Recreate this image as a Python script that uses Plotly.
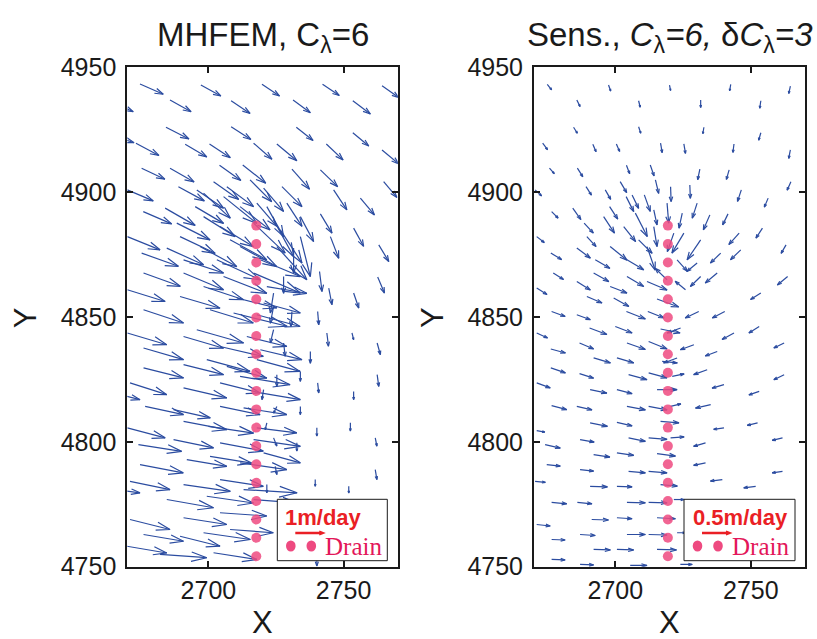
import plotly.graph_objects as go

# ---------------- data ----------------
# Left panel (MHFEM, C_lambda=6): arrow tails (x, y) and velocity (u, v) in m/day
L_x = [2674.7, 2697.2, 2719.8, 2742.2, 2764.2, 2664.8, 2685.8, 2708.4, 2731.3, 2753.4,
       2663.6, 2684.3, 2708.4, 2732.5, 2753.4, 2673.2, 2691.4, 2700.4, 2716.7, 2725.3,
       2743.6, 2764.2, 2675.3, 2685.8, 2704.1, 2712.7, 2730.9, 2741.4, 2764.8, 2670.0,
       2688.9, 2695.7, 2701.9, 2706.8, 2715.4, 2720.4, 2727.2, 2746.3, 2756.2, 2675.9,
       2684.0, 2695.1, 2698.2, 2705.6, 2711.7, 2717.9, 2721.6, 2729.0, 2734.0, 2741.4,
       2753.7, 2670.0, 2688.3, 2689.5, 2698.2, 2704.3, 2708.0, 2716.7, 2724.1, 2726.6,
       2734.0, 2745.1, 2763.0, 2675.3, 2684.6, 2690.8, 2696.9, 2703.1, 2711.7, 2719.2,
       2725.3, 2731.5, 2741.1, 2744.5, 2762.6, 2670.0, 2676.0, 2690.8, 2698.2, 2705.6,
       2716.7, 2721.6, 2727.8, 2724.1, 2753.7, 2689.5, 2710.5, 2720.4, 2676.0, 2700.6,
       2709.3, 2717.9, 2724.1, 2730.9, 2740.4, 2670.0, 2676.0, 2690.8, 2695.7, 2704.3,
       2714.2, 2719.2, 2724.1, 2727.8, 2737.7, 2743.8, 2753.1, 2762.4, 2676.0, 2690.8,
       2699.4, 2706.8, 2711.7, 2717.9, 2725.3, 2734.0, 2740.4, 2753.7, 2762.4, 2671.0,
       2664.8, 2690.8, 2704.3, 2719.2, 2720.4, 2676.6, 2687.1, 2704.3, 2713.0, 2725.3,
       2734.0, 2670.0, 2690.8, 2700.0, 2717.9, 2721.6, 2740.1, 2752.5, 2761.7, 2674.1,
       2687.1, 2704.3, 2716.7, 2724.1, 2732.7, 2674.7, 2692.0, 2700.6, 2711.7, 2720.4,
       2724.7, 2761.7, 2664.8, 2671.0, 2690.8, 2704.3, 2713.0, 2721.6, 2739.5, 2751.9,
       2684.6, 2699.4, 2716.7, 2671.0, 2690.8, 2704.3, 2676.0, 2689.5, 2698.2, 2708.0,
       2669.8, 2682.1, 2701.9, 2740.1]
L_y = [4943.3, 4942.9, 4943.2, 4943.2, 4942.6, 4935.8, 4936.9, 4936.6, 4936.9, 4936.6,
       4922.9, 4926.0, 4926.2, 4926.0, 4923.8, 4919.6, 4919.2, 4919.3, 4919.6, 4919.3,
       4919.3, 4916.9, 4909.6, 4909.6, 4910.8, 4910.9, 4909.2, 4908.9, 4904.2, 4900.9,
       4902.2, 4900.9, 4904.2, 4902.2, 4904.9, 4901.6, 4902.2, 4900.9, 4897.6, 4892.2,
       4893.6, 4894.2, 4899.6, 4898.2, 4894.2, 4895.6, 4894.2, 4895.6, 4890.2, 4891.3,
       4885.6, 4882.2, 4887.6, 4882.2, 4890.2, 4886.2, 4880.9, 4887.6, 4888.9, 4884.9,
       4882.2, 4882.2, 4878.9, 4875.6, 4877.6, 4872.9, 4878.2, 4872.9, 4878.2, 4872.9,
       4878.2, 4877.6, 4868.2, 4861.6, 4866.0, 4860.9, 4867.6, 4867.6, 4862.2, 4866.2,
       4867.6, 4862.2, 4866.2, 4859.6, 4859.6, 4858.2, 4857.6, 4855.6, 4852.9, 4852.9,
       4851.6, 4850.9, 4854.2, 4852.2, 4852.2, 4843.6, 4837.6, 4842.2, 4844.9, 4838.2,
       4842.2, 4836.9, 4844.9, 4839.6, 4836.2, 4843.6, 4843.6, 4839.6, 4829.6, 4830.9,
       4832.9, 4830.2, 4826.2, 4832.9, 4826.9, 4828.2, 4823.6, 4820.2, 4826.9, 4823.6,
       4819.6, 4821.6, 4823.6, 4819.6, 4820.9, 4814.2, 4812.9, 4814.2, 4813.6, 4814.2,
       4814.2, 4805.6, 4808.2, 4806.2, 4805.6, 4807.6, 4805.6, 4807.6, 4801.6, 4798.9,
       4800.9, 4799.6, 4800.9, 4801.6, 4799.6, 4790.9, 4792.9, 4794.2, 4791.6, 4795.6,
       4790.2, 4788.9, 4780.9, 4784.2, 4782.9, 4784.9, 4780.9, 4782.9, 4784.9, 4782.2,
       4776.9, 4778.2, 4776.9, 4768.9, 4769.6, 4771.6, 4762.9, 4762.2, 4763.6, 4764.9,
       4758.2, 4754.9, 4755.6, 4755.6]
L_u = [0.86, 0.74, 0.65, 0.62, 0.62, 0.74, 0.78, 0.70, 0.64, 0.65,
       0.89, 0.85, 0.73, 0.62, 0.59, 0.85, 0.80, 0.77, 0.68, 0.74,
       0.62, 0.62, 0.86, 0.89, 0.79, 0.85, 0.65, 0.64, 0.49, 0.96,
       0.96, 0.99, 0.93, 0.99, 0.80, 0.74, 0.74, 0.49, 0.52, 1.05,
       1.11, 1.05, 0.99, 1.23, 1.11, 0.74, 0.62, 0.56, 0.49, 0.43,
       0.37, 1.21, 1.23, 1.30, 1.17, 1.23, 1.36, 1.17, 0.74, 0.80,
       0.37, 0.31, 0.37, 1.36, 1.36, 1.48, 1.36, 1.60, 1.36, 1.48,
       1.11, 0.00, 0.09, 0.12, 0.25, 1.40, 1.36, 1.48, 1.48, 1.60,
       1.73, 1.48, 0.00, -0.12, 0.19, 1.48, 1.48, 1.36, 1.48, 1.60,
       1.98, 1.60, -0.12, -0.04, 0.04, 1.46, 1.48, 1.48, 1.73, 1.60,
       1.48, 1.54, -0.12, 0.06, 0.00, 0.06, 0.06, 0.12, 1.48, 1.48,
       1.60, 1.48, 1.85, 1.60, 0.00, 0.00, 0.04, 0.00, 0.06, 1.36,
       0.99, 1.60, 1.48, 1.48, -0.06, 1.42, 1.36, 1.48, 1.60, -0.12,
       0.00, 1.40, 1.60, 1.67, 1.48, -0.06, 0.00, 0.00, 0.06, 1.60,
       1.48, 1.60, 1.73, 0.12, 0.00, 1.60, 1.48, 1.54, 1.73, 1.36,
       0.06, 0.06, 0.99, 1.48, 1.73, 1.60, 1.98, 0.00, 0.00, 0.00,
       1.73, 1.73, 1.60, 1.48, 1.60, 1.73, 1.48, 1.48, 1.73, 1.60,
       1.48, 1.73, 1.60, 0.00]
L_v = [-0.41, -0.44, -0.47, -0.45, -0.47, -0.36, -0.47, -0.51, -0.51, -0.53,
       -0.31, -0.47, -0.51, -0.53, -0.53, -0.49, -0.51, -0.55, -0.64, -0.67,
       -0.64, -0.56, -0.44, -0.55, -0.61, -0.73, -0.80, -0.67, -0.63, -0.44,
       -0.57, -0.73, -0.71, -0.80, -0.87, -0.93, -0.80, -0.80, -0.67, -0.49,
       -0.69, -0.67, -1.00, -1.07, -0.93, -0.93, -1.20, -0.93, -1.00, -0.77,
       -0.73, -0.53, -0.67, -0.67, -0.80, -0.80, -0.80, -1.20, -1.47, -1.33,
       -1.60, -0.87, -0.67, -0.53, -0.67, -0.53, -0.80, -0.80, -0.80, -0.67,
       -1.33, -1.00, -0.80, -0.67, -0.64, -0.47, -0.53, -0.67, -0.53, -0.67,
       -0.80, -0.27, -0.67, -0.80, -0.60, -0.47, -0.40, -0.40, -0.53, -0.53,
       -0.53, -0.47, -0.67, -0.60, -0.53, -0.47, -0.47, -0.47, -0.53, -0.40,
       -0.40, -0.40, -0.53, -0.53, -0.47, -0.53, -0.27, -0.47, -0.40, -0.40,
       -0.47, -0.47, -0.33, -0.47, -0.47, -0.40, -0.40, -0.33, -0.47, -0.47,
       -0.27, -0.40, -0.40, -0.27, -0.40, -0.33, -0.33, -0.33, -0.27, -0.27,
       -0.33, -0.40, -0.33, -0.27, -0.20, -0.27, -0.33, -0.33, -0.33, -0.27,
       -0.33, -0.33, -0.27, -0.33, -0.33, -0.33, -0.27, -0.27, -0.27, -0.40,
       -0.33, -0.40, -0.13, -0.33, -0.27, -0.27, -0.13, -0.33, -0.27, -0.27,
       -0.33, -0.27, -0.13, -0.40, -0.27, -0.13, -0.27, -0.40, -0.27, -0.13,
       -0.27, -0.13, -0.27, -0.53]

# Right panel (sensitivity, C_lambda=6, dC_lambda=3)
R_x = [2674.9, 2697.5, 2720.0, 2742.6, 2764.6, 2685.8, 2708.6, 2731.5, 2753.7, 2684.6,
       2708.6, 2732.7, 2753.7, 2673.2, 2691.7, 2700.4, 2716.7, 2725.3, 2743.8, 2764.6,
       2675.7, 2686.0, 2704.1, 2712.9, 2731.2, 2742.0, 2764.8, 2670.4, 2689.2, 2696.3,
       2701.8, 2706.2, 2714.8, 2720.4, 2727.5, 2746.5, 2756.4, 2676.5, 2684.3, 2697.9,
       2704.0, 2710.7, 2714.2, 2719.1, 2724.7, 2730.2, 2734.9, 2741.6, 2754.3, 2671.0,
       2688.5, 2689.5, 2695.7, 2703.1, 2707.4, 2708.6, 2714.2, 2721.6, 2725.3, 2731.5,
       2745.7, 2763.0, 2676.2, 2685.8, 2692.6, 2698.1, 2704.3, 2711.7, 2719.1, 2722.8,
       2730.2, 2738.9, 2746.3, 2763.6, 2671.0, 2677.1, 2685.8, 2692.0, 2698.1, 2704.3,
       2711.7, 2725.9, 2731.5, 2737.6, 2753.7, 2676.5, 2689.5, 2699.4, 2715.4, 2685.8,
       2704.1, 2712.0, 2730.8, 2740.4, 2671.0, 2690.5, 2700.0, 2716.7, 2724.1, 2743.8,
       2753.1, 2676.2, 2686.8, 2704.3, 2712.3, 2717.3, 2722.8, 2729.0, 2737.6, 2762.3,
       2676.2, 2686.8, 2692.0, 2700.6, 2704.9, 2712.3, 2721.0, 2733.9, 2762.3, 2671.0,
       2690.7, 2700.6, 2715.4, 2740.1, 2753.1, 2676.5, 2685.8, 2704.3, 2712.3, 2720.4,
       2735.2, 2690.7, 2700.6, 2716.7, 2740.1, 2752.5, 2671.0, 2674.1, 2687.0, 2704.9,
       2712.3, 2720.4, 2733.3, 2761.7, 2692.0, 2700.6, 2715.4, 2733.3, 2674.7, 2687.0,
       2704.9, 2712.3, 2761.7, 2670.4, 2690.7, 2700.6, 2716.7, 2739.5, 2751.8, 2676.5,
       2686.0, 2704.3, 2712.3, 2721.6, 2671.0, 2691.3, 2700.6, 2715.4, 2676.5, 2687.0,
       2704.3, 2712.3, 2722.8, 2692.0, 2700.6, 2715.4, 2676.5, 2687.0, 2705.5, 2724.0]
R_y = [4943.2, 4942.9, 4942.9, 4943.2, 4942.5, 4936.9, 4936.6, 4936.9, 4936.6, 4926.0,
       4926.2, 4926.0, 4923.8, 4919.6, 4919.2, 4919.3, 4919.6, 4919.3, 4919.3, 4916.9,
       4909.6, 4909.6, 4910.8, 4910.9, 4909.2, 4908.9, 4904.2, 4900.9, 4902.2, 4900.9,
       4904.2, 4898.9, 4904.9, 4902.2, 4902.9, 4900.9, 4897.6, 4892.2, 4893.6, 4894.2,
       4898.2, 4898.9, 4892.9, 4895.6, 4891.6, 4895.6, 4890.9, 4891.3, 4885.6, 4882.2,
       4887.6, 4882.2, 4890.2, 4886.2, 4891.6, 4880.9, 4886.2, 4883.6, 4883.6, 4880.9,
       4883.6, 4878.9, 4875.6, 4877.6, 4872.9, 4878.2, 4872.9, 4878.2, 4864.9, 4872.9,
       4871.6, 4875.6, 4876.9, 4866.2, 4861.6, 4867.6, 4864.2, 4867.6, 4862.2, 4866.2,
       4864.2, 4860.9, 4866.2, 4867.6, 4859.6, 4852.2, 4858.2, 4857.6, 4857.2, 4850.9,
       4852.2, 4852.2, 4852.2, 4852.2, 4843.6, 4845.6, 4846.2, 4845.2, 4845.6, 4843.6,
       4846.2, 4837.2, 4839.6, 4839.6, 4840.2, 4832.2, 4833.6, 4838.9, 4836.2, 4839.6,
       4829.6, 4827.3, 4833.6, 4833.6, 4826.9, 4827.6, 4826.2, 4828.9, 4826.9, 4823.6,
       4820.9, 4820.9, 4820.9, 4822.9, 4820.2, 4814.5, 4814.2, 4814.2, 4814.2, 4814.2,
       4814.9, 4807.6, 4807.8, 4808.2, 4805.6, 4807.6, 4804.5, 4798.9, 4800.9, 4801.6,
       4801.6, 4801.6, 4799.6, 4801.6, 4794.9, 4795.6, 4795.3, 4791.6, 4790.9, 4788.9,
       4788.2, 4788.2, 4788.2, 4784.2, 4782.2, 4782.2, 4782.9, 4784.9, 4782.2, 4775.8,
       4775.8, 4775.8, 4775.8, 4776.9, 4766.9, 4768.9, 4769.6, 4769.6, 4760.9, 4762.9,
       4762.9, 4762.9, 4763.6, 4756.9, 4756.9, 4756.9, 4752.9, 4750.9, 4750.5, 4750.9]
R_u = [0.08, 0.04, 0.02, -0.02, -0.03, 0.06, 0.03, 0.00, -0.02, 0.07,
       0.04, -0.02, -0.04, 0.09, 0.06, 0.06, 0.03, 0.03, -0.02, -0.03,
       0.09, 0.10, 0.06, 0.07, -0.04, -0.05, -0.07, 0.12, 0.10, 0.10,
       0.12, 0.12, 0.06, 0.01, 0.01, -0.07, -0.07, 0.12, 0.15, 0.15,
       0.14, 0.11, 0.06, 0.03, -0.06, -0.09, -0.12, -0.10, -0.12, 0.14,
       0.17, 0.17, 0.20, 0.22, 0.22, 0.25, 0.06, -0.12, -0.22, -0.25,
       -0.19, -0.09, 0.20, 0.25, 0.27, 0.31, 0.31, 0.15, -0.22, 0.19,
       -0.19, -0.19, -0.19, -0.19, 0.19, 0.19, 0.25, 0.28, 0.31, 0.31,
       0.37, -0.19, -0.19, -0.22, -0.19, 0.25, 0.28, 0.28, 0.40, 0.25,
       0.35, 0.30, -0.25, -0.23, 0.20, 0.32, 0.31, 0.36, -0.25, -0.22,
       -0.19, 0.27, 0.26, 0.34, 0.34, 0.28, -0.25, -0.25, -0.22, -0.19,
       0.27, 0.26, 0.31, 0.31, 0.34, 0.34, 0.22, -0.25, -0.19, 0.25,
       0.31, 0.28, 0.37, -0.22, -0.19, 0.28, 0.28, 0.34, 0.34, 0.19,
       -0.28, 0.32, 0.28, 0.34, -0.19, -0.19, 0.15, 0.28, 0.26, 0.31,
       0.34, 0.25, -0.22, -0.19, 0.30, 0.31, 0.34, -0.22, 0.25, 0.25,
       0.31, 0.34, -0.19, 0.19, 0.32, 0.28, 0.31, -0.22, -0.22, 0.28,
       0.27, 0.34, 0.34, 0.19, 0.25, 0.31, 0.28, 0.34, 0.25, 0.28,
       0.34, 0.34, 0.15, 0.31, 0.31, 0.36, 0.25, 0.25, 0.31, 0.22]
R_v = [-0.11, -0.12, -0.11, -0.13, -0.15, -0.13, -0.13, -0.15, -0.15, -0.12,
       -0.13, -0.13, -0.15, -0.13, -0.15, -0.15, -0.19, -0.19, -0.17, -0.17,
       -0.11, -0.17, -0.17, -0.22, -0.21, -0.19, -0.17, -0.12, -0.17, -0.19,
       -0.22, -0.27, -0.27, -0.30, -0.27, -0.23, -0.18, -0.13, -0.23, -0.25,
       -0.30, -0.33, -0.30, -0.40, -0.30, -0.30, -0.30, -0.22, -0.20, -0.12,
       -0.20, -0.20, -0.33, -0.30, -0.47, -0.27, -0.40, -0.37, -0.40, -0.40,
       -0.23, -0.17, -0.13, -0.20, -0.17, -0.27, -0.20, -0.47, 0.23, -0.23,
       -0.17, -0.20, -0.20, -0.17, -0.13, -0.13, -0.17, -0.17, -0.13, -0.20,
       -0.17, 0.17, -0.20, -0.20, -0.13, -0.10, -0.13, -0.17, -0.16, -0.10,
       -0.15, -0.13, -0.13, -0.13, -0.10, -0.13, -0.13, -0.08, -0.10, -0.13,
       -0.13, -0.08, -0.12, -0.13, -0.15, -0.03, -0.10, -0.10, -0.09, -0.10,
       -0.10, -0.09, -0.10, -0.10, -0.10, -0.10, 0.05, -0.10, -0.10, -0.10,
       -0.07, -0.08, 0.00, -0.07, -0.07, -0.08, -0.07, -0.07, -0.07, 0.05,
       -0.07, -0.07, -0.07, -0.03, -0.03, -0.05, -0.03, -0.07, -0.05, -0.07,
       -0.03, 0.02, -0.07, -0.05, -0.05, -0.05, -0.05, -0.05, -0.03, -0.03,
       -0.03, -0.03, -0.03, -0.02, -0.01, -0.01, -0.03, -0.03, -0.03, -0.03,
       -0.03, -0.01, -0.01, 0.00, -0.03, -0.01, -0.02, -0.02, -0.01, -0.02,
       0.00, -0.01, 0.00, -0.01, -0.01, -0.01, -0.01, -0.01, 0.00, 0.00]

# Drain nodes
drain_y = [4886.6, 4879.2, 4871.8, 4864.5, 4857.1, 4849.8, 4842.4, 4835.1, 4827.7, 4820.4,
           4813.0, 4805.7, 4798.3, 4791.0, 4783.6, 4776.3, 4768.9, 4761.6, 4754.2]
drain_x_left = 2717.7
drain_x_right = 2719.4

scale_left = 10.0    # map units per (m/day)
scale_right = 20.0
ref_speed_left = 1.0
ref_speed_right = 0.5

x_range = [2670, 2770]
y_range = [4750, 4950]
x_ticks = [2700, 2750]
y_ticks = [4750, 4800, 4850, 4900, 4950]

titles = ["MHFEM, C<sub>λ</sub>=6",
          "Sens., <i>C</i><sub>λ</sub><i>=6, </i>δ<i>C</i><sub>λ</sub><i>=3</i>"]
ref_labels = ["1m/day", "0.5m/day"]

# ---------------- styling ----------------
W, H = 817, 639
BLUE = "#2b4ca0"
PINK = "#ee4a80"
RED = "#ea1f25"
CRIMSON = "#e3175a"
FONT = "Liberation Sans, Arial, Helvetica, sans-serif"


def px2x(px):
    return px / W


def py2y(py):
    return 1 - py / H


def quiver(xs, ys, us, vs, s, alpha=0.33, beta=0.33):
    qx, qy = [], []
    for x, y, u, v in zip(xs, ys, us, vs):
        du, dv = u * s, v * s
        xe, ye = x + du, y + dv
        qx += [x, xe, None,
               xe - alpha * (du + beta * dv), xe, xe - alpha * (du - beta * dv), None]
        qy += [y, ye, None,
               ye - alpha * (dv - beta * du), ye, ye - alpha * (dv + beta * du), None]
    return qx, qy


fig = go.Figure()

panels = [
    dict(x=L_x, y=L_y, u=L_u, v=L_v, s=scale_left, dx=drain_x_left, xa="x", ya="y",
         ref=ref_speed_left),
    dict(x=R_x, y=R_y, u=R_u, v=R_v, s=scale_right, dx=drain_x_right, xa="x2", ya="y2",
         ref=ref_speed_right),
]

for p in panels:
    qx, qy = quiver(p["x"], p["y"], p["u"], p["v"], p["s"])
    fig.add_trace(go.Scatter(x=qx, y=qy, mode="lines", xaxis=p["xa"], yaxis=p["ya"],
                             line=dict(color=BLUE, width=1.2), hoverinfo="skip",
                             showlegend=False))
    fig.add_trace(go.Scatter(x=[p["dx"]] * len(drain_y), y=drain_y, mode="markers",
                             xaxis=p["xa"], yaxis=p["ya"],
                             marker=dict(color=PINK, size=10, opacity=0.85, line=dict(width=0)),
                             hoverinfo="skip", showlegend=False))

# axis pixel frames
frames = [(127.3, 397.7), (534.0, 805.0)]
y_top, y_bot = 67.3, 566.7

axis_common = dict(showgrid=False, zeroline=False, showline=True, linecolor="#1a1a1a",
                   linewidth=2, mirror="ticks", ticks="inside", ticklen=6, tickwidth=1.5,
                   tickcolor="#1a1a1a", automargin=False,
                   tickfont=dict(family=FONT, size=25, color="#1a1a1a"))

fig.update_layout(
    width=W, height=H, autosize=False,
    margin=dict(l=0, r=0, t=0, b=0, pad=0, autoexpand=False),
    paper_bgcolor="white", plot_bgcolor="white", showlegend=False,
    xaxis=dict(domain=[px2x(frames[0][0]), px2x(frames[0][1])], range=x_range,
               tickvals=x_ticks, anchor="y", **axis_common),
    yaxis=dict(domain=[py2y(y_bot), py2y(y_top)], range=y_range, tickvals=y_ticks,
               anchor="x", ticklabelstandoff=4, **axis_common),
    xaxis2=dict(domain=[px2x(frames[1][0]), px2x(frames[1][1])], range=x_range,
                tickvals=x_ticks, anchor="y2", **axis_common),
    yaxis2=dict(domain=[py2y(y_bot), py2y(y_top)], range=y_range, tickvals=y_ticks,
                anchor="x2", ticklabelstandoff=4, **axis_common),
)

annotations = []
shapes = []
for i, (x0, x1) in enumerate(frames):
    cx = (x0 + x1) / 2
    # title
    annotations.append(dict(text=titles[i], xref="paper", yref="paper", x=px2x(cx),
                            y=py2y(14), xanchor="center", yanchor="top", showarrow=False,
                            font=dict(family=FONT, size=33, color="#1a1a1a")))
    # axis labels
    annotations.append(dict(text="X", xref="paper", yref="paper", x=px2x(cx), y=py2y(622),
                            xanchor="center", yanchor="middle", showarrow=False,
                            font=dict(family=FONT, size=31, color="#1a1a1a")))
    annotations.append(dict(text="Y", xref="paper", yref="paper", x=px2x(x0 - 102),
                            y=py2y(318), xanchor="center", yanchor="middle", showarrow=False,
                            textangle=-90, font=dict(family=FONT, size=31, color="#1a1a1a")))

legend_boxes = [(277.3, 387.3), (684.0, 795.0)]
label_centers = [323.5, 740.0]
for i, (bx0, bx1) in enumerate(legend_boxes):
    xa = "x" if i == 0 else "x2"
    ya = "y" if i == 0 else "y2"
    p = panels[i]
    shapes.append(dict(type="rect", xref="paper", yref="paper", x0=px2x(bx0), x1=px2x(bx1),
                       y0=py2y(560.7), y1=py2y(499.3), line=dict(color="#1a1a1a", width=1),
                       fillcolor="white", layer="above"))
    # reference arrow (length = ref speed * scale, in data units)
    L = p["ref"] * p["s"]
    ax0 = x_range[0] + (bx0 + 18 - frames[i][0]) / (frames[i][1] - frames[i][0]) * (x_range[1] - x_range[0])
    ay = y_range[1] - (533.0 - y_top) / (y_bot - y_top) * (y_range[1] - y_range[0])
    ax1 = ax0 + L
    hl, hw = 0.12 * L, 0.05 * L
    path = (f"M {ax0},{ay} L {ax1},{ay} M {ax1 - hl},{ay + hw} L {ax1},{ay} L {ax1 - hl},{ay - hw}")
    shapes.append(dict(type="path", xref=xa, yref=ya, path=path,
                       line=dict(color=RED, width=2.5), layer="above"))
    # drain legend dots
    for dcx in (bx0 + 13.5, bx0 + 34.0):
        shapes.append(dict(type="circle", xref="paper", yref="paper",
                           x0=px2x(dcx - 4.8), x1=px2x(dcx + 4.8),
                           y0=py2y(551.5), y1=py2y(540.5), fillcolor=PINK,
                           line=dict(width=0), layer="above"))
    annotations.append(dict(text=f"<b>{ref_labels[i]}</b>", xref="paper", yref="paper",
                            x=px2x(label_centers[i]), y=py2y(517), xanchor="center",
                            yanchor="middle", showarrow=False,
                            font=dict(family=FONT, size=22, color=RED)))
    annotations.append(dict(text="Drain", xref="paper", yref="paper", x=px2x(bx0 + 46),
                            y=py2y(546), xanchor="left", yanchor="middle", showarrow=False,
                            font=dict(family="Liberation Serif, Times New Roman, serif",
                                      size=25, color=CRIMSON)))

fig.update_layout(annotations=annotations, shapes=shapes)

fig.write_html("out.html", config={"responsive": False, "displayModeBar": False},
               post_script="document.body.style.margin='0';document.body.style.padding='0';")
